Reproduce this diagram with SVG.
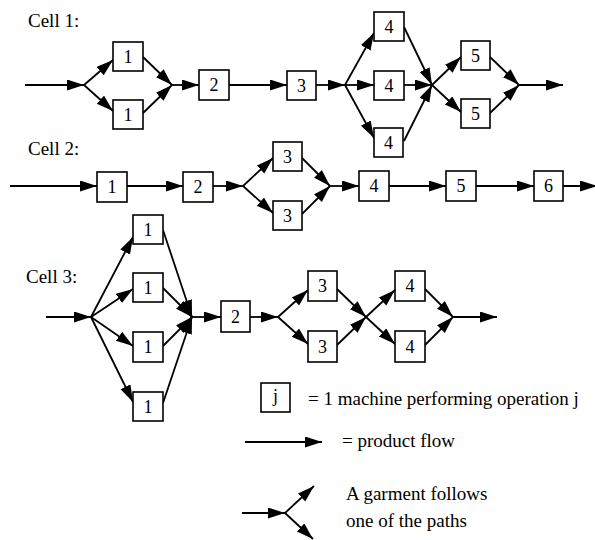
<svg xmlns="http://www.w3.org/2000/svg" width="595" height="540" viewBox="0 0 595 540">
<style>
.box{fill:#fff;stroke:#000;stroke-width:1.6}
.n{font-family:'Liberation Serif','Times New Roman',serif;font-size:18px;text-anchor:middle;fill:#000}
.t{font-family:'Liberation Serif','Times New Roman',serif;font-size:19px;fill:#000}
.c line{stroke:#000;stroke-width:1.8;marker-end:url(#ah)}
</style>
<defs>
<marker id="ah" markerUnits="userSpaceOnUse" markerWidth="18" markerHeight="12" refX="17" refY="5.5" orient="auto">
<path d="M0,0 L17,5.5 L0,11 z" fill="#000"/>
</marker>
</defs>
<rect width="595" height="540" fill="#fff"/>
<g font-family="Liberation Serif, Times New Roman, serif">
<text class="t" x="28" y="27">Cell 1:</text>
<text class="t" x="28" y="155">Cell 2:</text>
<text class="t" x="26" y="283">Cell 3:</text>
</g>

<g class="c" id="connectors">
<!-- Cell 1 -->
<line x1="25" y1="85" x2="84" y2="85"/>
<line x1="84" y1="85" x2="113" y2="60"/>
<line x1="84" y1="85" x2="113" y2="111"/>
<line x1="143" y1="57" x2="172" y2="85"/>
<line x1="143" y1="113" x2="172" y2="85"/>
<line x1="172" y1="85" x2="199" y2="85"/>
<line x1="229" y1="85" x2="287" y2="85"/>
<line x1="316" y1="85" x2="345" y2="85"/>
<line x1="345" y1="85" x2="374" y2="33"/>
<line x1="345" y1="85" x2="374" y2="85"/>
<line x1="345" y1="85" x2="374" y2="138"/>
<line x1="404" y1="27" x2="432" y2="85"/>
<line x1="404" y1="85" x2="432" y2="85"/>
<line x1="404" y1="141" x2="432" y2="85"/>
<line x1="432" y1="85" x2="461" y2="57"/>
<line x1="432" y1="85" x2="461" y2="112"/>
<line x1="490" y1="57" x2="519" y2="85"/>
<line x1="490" y1="113" x2="519" y2="85"/>
<line x1="519" y1="85" x2="563" y2="85"/>
<!-- Cell 2 -->
<line x1="10" y1="186" x2="97" y2="186"/>
<line x1="127" y1="186" x2="183" y2="186"/>
<line x1="213" y1="186" x2="243" y2="186"/>
<line x1="243" y1="186" x2="273" y2="158"/>
<line x1="243" y1="186" x2="273" y2="213"/>
<line x1="302" y1="158" x2="330" y2="186"/>
<line x1="302" y1="214" x2="330" y2="186"/>
<line x1="330" y1="186" x2="359" y2="186"/>
<line x1="389" y1="186" x2="446" y2="186"/>
<line x1="476" y1="186" x2="534" y2="186"/>
<line x1="563" y1="186" x2="597" y2="186"/>
<!-- Cell 3 -->
<line x1="46" y1="317" x2="91" y2="317"/>
<line x1="91" y1="317" x2="133" y2="237"/>
<line x1="91" y1="317" x2="133" y2="289"/>
<line x1="91" y1="317" x2="133" y2="346"/>
<line x1="91" y1="317" x2="133" y2="402"/>
<line x1="163" y1="230" x2="192" y2="317"/>
<line x1="163" y1="288" x2="192" y2="317"/>
<line x1="163" y1="346" x2="192" y2="317"/>
<line x1="163" y1="403" x2="192" y2="317"/>
<line x1="192" y1="317" x2="221" y2="317"/>
<line x1="250" y1="317" x2="278" y2="317"/>
<line x1="278" y1="317" x2="308" y2="290"/>
<line x1="278" y1="317" x2="308" y2="344"/>
<line x1="337" y1="289" x2="366" y2="317"/>
<line x1="337" y1="345" x2="366" y2="317"/>
<line x1="366" y1="317" x2="395" y2="290"/>
<line x1="366" y1="317" x2="395" y2="344"/>
<line x1="425" y1="289" x2="453" y2="317"/>
<line x1="425" y1="345" x2="453" y2="317"/>
<line x1="453" y1="317" x2="497" y2="317"/>
<!-- Legend -->
<line x1="245" y1="442" x2="322" y2="442"/>
<line x1="242" y1="513" x2="285" y2="513"/>
<line x1="285" y1="513" x2="314" y2="486"/>
<line x1="285" y1="513" x2="313" y2="539"/>
</g>

<!-- Cell 1 nodes -->
<g id="c1-1a"><rect class="box" x="113" y="42" width="30" height="29"/><text class="n" x="128" y="63">1</text></g>
<g id="c1-1b"><rect class="box" x="113" y="100" width="30" height="29"/><text class="n" x="128" y="121">1</text></g>
<g id="c1-2"><rect class="box" x="199" y="70" width="30" height="30"/><text class="n" x="214" y="91">2</text></g>
<g id="c1-3"><rect class="box" x="287" y="71" width="29" height="29"/><text class="n" x="301.5" y="92">3</text></g>
<g id="c1-4a"><rect class="box" x="374" y="12" width="30" height="29"/><text class="n" x="389" y="33">4</text></g>
<g id="c1-4b"><rect class="box" x="374" y="71" width="30" height="29"/><text class="n" x="389" y="92">4</text></g>
<g id="c1-4c"><rect class="box" x="374" y="128" width="29" height="29"/><text class="n" x="388.5" y="149">4</text></g>
<g id="c1-5a"><rect class="box" x="461" y="41" width="29" height="29"/><text class="n" x="475.5" y="62">5</text></g>
<g id="c1-5b"><rect class="box" x="461" y="99" width="29" height="29"/><text class="n" x="475.5" y="120">5</text></g>

<!-- Cell 2 nodes -->
<g id="c2-1"><rect class="box" x="97" y="172" width="30" height="30"/><text class="n" x="112" y="193">1</text></g>
<g id="c2-2"><rect class="box" x="183" y="172" width="30" height="30"/><text class="n" x="198" y="193">2</text></g>
<g id="c2-3a"><rect class="box" x="273" y="142" width="29" height="29"/><text class="n" x="287.5" y="163">3</text></g>
<g id="c2-3b"><rect class="box" x="273" y="201" width="29" height="29"/><text class="n" x="287.5" y="222">3</text></g>
<g id="c2-4"><rect class="box" x="359" y="171" width="30" height="30"/><text class="n" x="374" y="192">4</text></g>
<g id="c2-5"><rect class="box" x="446" y="171" width="30" height="30"/><text class="n" x="461" y="192">5</text></g>
<g id="c2-6"><rect class="box" x="534" y="171" width="29" height="30"/><text class="n" x="548.5" y="192">6</text></g>

<!-- Cell 3 nodes -->
<g id="c3-1a"><rect class="box" x="133" y="215" width="30" height="29"/><text class="n" x="148" y="236">1</text></g>
<g id="c3-1b"><rect class="box" x="133" y="273" width="30" height="29"/><text class="n" x="148" y="294">1</text></g>
<g id="c3-1c"><rect class="box" x="133" y="332" width="30" height="30"/><text class="n" x="148" y="353">1</text></g>
<g id="c3-1d"><rect class="box" x="133" y="392" width="30" height="29"/><text class="n" x="148" y="413">1</text></g>
<g id="c3-2"><rect class="box" x="221" y="301" width="29" height="31"/><text class="n" x="235.5" y="323">2</text></g>
<g id="c3-3a"><rect class="box" x="308" y="271" width="29" height="30"/><text class="n" x="322.5" y="292">3</text></g>
<g id="c3-3b"><rect class="box" x="308" y="331" width="29" height="31"/><text class="n" x="322.5" y="353">3</text></g>
<g id="c3-4a"><rect class="box" x="395" y="271" width="30" height="30"/><text class="n" x="410" y="292">4</text></g>
<g id="c3-4b"><rect class="box" x="395" y="331" width="30" height="31"/><text class="n" x="410" y="353">4</text></g>

<!-- Legend -->
<g id="legend-box"><rect class="box" x="261" y="383" width="29" height="29"/><text class="n" x="275.5" y="402">j</text></g>
<g id="legend-text">
<text class="t" x="308" y="405" font-size="19.5">= 1 machine performing operation j</text>
<text class="t" x="342" y="447">= product flow</text>
<text class="t" x="346" y="500">A garment follows</text>
<text class="t" x="346" y="527">one of the paths</text>
</g>
</svg>
